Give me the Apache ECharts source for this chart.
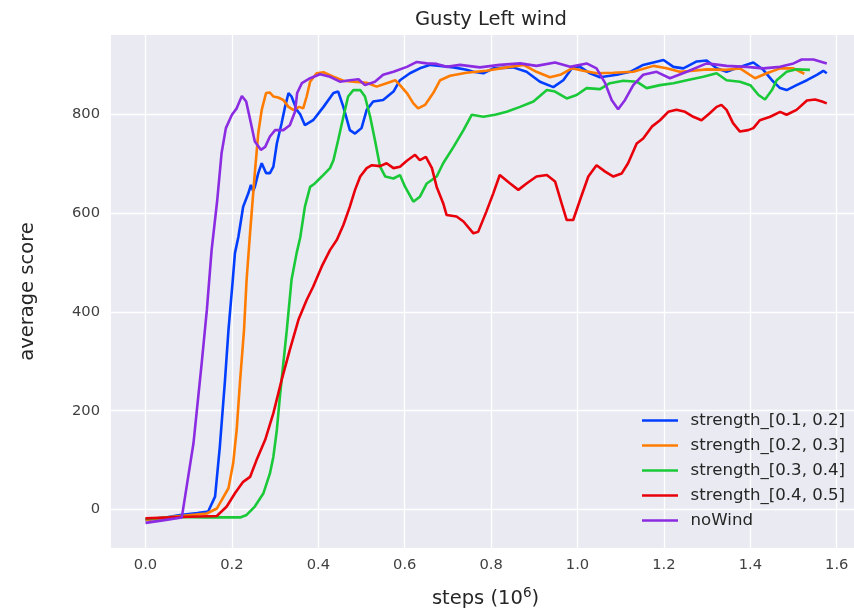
<!DOCTYPE html>
<html>
<head>
<meta charset="utf-8">
<script src="https://cdn.jsdelivr.net/npm/echarts@6/dist/echarts.min.js"></script>
<style>html,body{margin:0;padding:0;background:#fff;overflow:hidden}#c{width:854px;height:614px}</style>
</head>
<body>
<div id="c"></div>
<script>
const seriesNames = ['strength_[0.1, 0.2]', 'strength_[0.2, 0.3]', 'strength_[0.3, 0.4]', 'strength_[0.4, 0.5]', 'noWind'];
const xTicks = [0, 0.2, 0.4, 0.6, 0.8, 1.0, 1.2, 1.4, 1.6];
const yTicks = [0, 200, 400, 600, 800];

const blueX = [0, 0.04, 0.08, 0.12, 0.145, 0.161, 0.172, 0.184, 0.192, 0.202, 0.207, 0.215, 0.226, 0.238, 0.244, 0.249, 0.253, 0.261, 0.269, 0.279, 0.288, 0.296, 0.304, 0.315, 0.323, 0.331, 0.338, 0.35, 0.358, 0.369, 0.388, 0.412, 0.435, 0.446, 0.458, 0.473, 0.485, 0.5, 0.512, 0.527, 0.55, 0.574, 0.589, 0.612, 0.635, 0.659, 0.682, 0.713, 0.743, 0.759, 0.782, 0.805, 0.851, 0.882, 0.913, 0.944, 0.967, 0.987, 1.006, 1.029, 1.052, 1.091, 1.122, 1.152, 1.199, 1.222, 1.245, 1.276, 1.299, 1.322, 1.345, 1.376, 1.407, 1.43, 1.45, 1.469, 1.484, 1.507, 1.531, 1.554, 1.569, 1.577];
const blueY = [-21, -17, -11, -7, -4, 26, 127, 262, 363, 465, 519, 552, 613, 640, 657, 645, 653, 681, 701, 681, 681, 694, 741, 782, 815, 843, 836, 809, 800, 778, 788, 815, 843, 846, 815, 768, 761, 772, 809, 826, 829, 846, 869, 883, 893, 900, 898, 895, 890, 886, 883, 893, 895, 886, 866, 855, 869, 893, 896, 883, 875, 880, 886, 900, 910, 896, 893, 907, 909, 893, 886, 896, 905, 890, 869, 853, 849, 859, 869, 880, 888, 883];

const orangeX = [0, 0.04, 0.08, 0.142, 0.165, 0.192, 0.203, 0.211, 0.219, 0.228, 0.234, 0.242, 0.253, 0.261, 0.269, 0.279, 0.288, 0.296, 0.307, 0.319, 0.331, 0.342, 0.356, 0.365, 0.373, 0.381, 0.396, 0.412, 0.435, 0.458, 0.481, 0.512, 0.535, 0.558, 0.578, 0.589, 0.605, 0.62, 0.631, 0.647, 0.666, 0.682, 0.705, 0.743, 0.789, 0.836, 0.875, 0.905, 0.936, 0.96, 0.987, 1.013, 1.044, 1.083, 1.129, 1.176, 1.206, 1.237, 1.268, 1.299, 1.345, 1.376, 1.411, 1.438, 1.469, 1.5, 1.525];
const orangeY = [-21, -17, -13, -8, 2, 43, 94, 161, 262, 363, 465, 560, 681, 762, 809, 843, 844, 836, 834, 829, 815, 809, 815, 812, 836, 866, 883, 885, 876, 868, 866, 864, 856, 863, 869, 859, 843, 822, 812, 819, 843, 869, 878, 884, 888, 895, 900, 886, 875, 880, 893, 888, 883, 884, 886, 898, 893, 886, 888, 891, 890, 893, 873, 883, 893, 893, 882];

const greenX = [0, 0.08, 0.142, 0.219, 0.234, 0.253, 0.273, 0.288, 0.296, 0.304, 0.311, 0.319, 0.327, 0.338, 0.35, 0.358, 0.369, 0.381, 0.392, 0.408, 0.427, 0.435, 0.446, 0.458, 0.469, 0.481, 0.497, 0.508, 0.52, 0.531, 0.543, 0.555, 0.574, 0.589, 0.601, 0.62, 0.635, 0.651, 0.674, 0.689, 0.713, 0.736, 0.755, 0.782, 0.809, 0.836, 0.867, 0.898, 0.929, 0.948, 0.975, 0.998, 1.021, 1.052, 1.075, 1.106, 1.137, 1.16, 1.191, 1.222, 1.253, 1.291, 1.322, 1.345, 1.376, 1.4, 1.419, 1.434, 1.45, 1.461, 1.484, 1.507, 1.538];
const greenY = [-19, -15, -16, -16, -11, 6, 33, 73, 107, 161, 228, 296, 363, 465, 520, 550, 613, 653, 660, 674, 691, 707, 748, 795, 836, 849, 849, 836, 795, 748, 694, 674, 670, 677, 653, 623, 633, 660, 674, 701, 734, 768, 799, 795, 799, 805, 815, 826, 849, 846, 832, 839, 853, 851, 863, 868, 866, 853, 859, 863, 869, 876, 883, 869, 866, 859, 839, 830, 849, 869, 886, 891, 890];

const redX = [0, 0.08, 0.165, 0.188, 0.207, 0.226, 0.242, 0.257, 0.277, 0.296, 0.315, 0.334, 0.354, 0.373, 0.388, 0.408, 0.427, 0.443, 0.458, 0.473, 0.485, 0.497, 0.512, 0.524, 0.543, 0.558, 0.574, 0.589, 0.605, 0.624, 0.635, 0.649, 0.663, 0.674, 0.689, 0.697, 0.72, 0.736, 0.759, 0.77, 0.789, 0.805, 0.82, 0.844, 0.863, 0.882, 0.905, 0.929, 0.948, 0.963, 0.975, 0.99, 1.006, 1.025, 1.044, 1.064, 1.083, 1.102, 1.117, 1.137, 1.152, 1.172, 1.191, 1.21, 1.229, 1.249, 1.268, 1.287, 1.306, 1.322, 1.333, 1.345, 1.36, 1.376, 1.395, 1.407, 1.422, 1.446, 1.469, 1.484, 1.507, 1.531, 1.55, 1.566, 1.577];
const redY = [-18, -15, -13, 6, 33, 56, 66, 100, 141, 195, 262, 323, 384, 424, 451, 492, 525, 546, 576, 613, 647, 674, 691, 697, 695, 701, 691, 694, 706, 718, 707, 714, 691, 653, 620, 596, 593, 583, 559, 562, 603, 640, 677, 660, 647, 660, 674, 677, 664, 620, 586, 586, 627, 674, 697, 684, 674, 680, 701, 741, 751, 775, 788, 805, 809, 805, 795, 788, 802, 815, 819, 809, 782, 765, 768, 772, 788, 795, 805, 799, 809, 828, 830, 826, 822];

const purpleX = [0, 0.04, 0.084, 0.111, 0.13, 0.142, 0.153, 0.166, 0.176, 0.186, 0.2, 0.211, 0.223, 0.233, 0.244, 0.253, 0.267, 0.277, 0.288, 0.3, 0.319, 0.334, 0.346, 0.351, 0.362, 0.381, 0.404, 0.427, 0.45, 0.473, 0.493, 0.508, 0.531, 0.55, 0.574, 0.605, 0.628, 0.651, 0.674, 0.697, 0.728, 0.774, 0.82, 0.867, 0.905, 0.948, 0.983, 1.021, 1.044, 1.064, 1.079, 1.094, 1.11, 1.129, 1.152, 1.183, 1.214, 1.253, 1.299, 1.345, 1.392, 1.43, 1.469, 1.5, 1.519, 1.546, 1.577];
const purpleY = [-27, -22, -16, 134, 296, 404, 525, 626, 721, 772, 799, 812, 837, 826, 782, 745, 728, 734, 755, 768, 768, 778, 805, 843, 863, 873, 881, 876, 866, 869, 871, 859, 866, 880, 886, 896, 906, 903, 902, 896, 900, 895, 900, 903, 898, 905, 896, 903, 893, 863, 829, 810, 829, 859, 880, 886, 873, 886, 903, 898, 896, 893, 896, 903, 911, 911, 903];

const colors = ['#023EFF', '#FF7C00', '#1AC938', '#E8000B', '#8B2BE2'];
const xs = [blueX, orangeX, greenX, redX, purpleX];
const ys = [blueY, orangeY, greenY, redY, purpleY];

const FONT = 'DejaVu Sans';
const chart = echarts.init(document.getElementById('c'), null, {renderer: 'canvas'});
chart.setOption({
  animation: false,
  backgroundColor: '#ffffff',
  textStyle: {fontFamily: FONT},
  title: {
    text: 'Gusty Left wind',
    left: 486, top: 5, textAlign: 'center',
    textStyle: {fontFamily: FONT, fontSize: 19.5, fontWeight: 'normal', color: '#262626'}
  },
  grid: {left: 111, right: 0, top: 35, bottom: 66, show: true, backgroundColor: '#EAEAF2', borderWidth: 0},
  legend: {
    orient: 'vertical', left: 635.7, top: 407,
    itemWidth: 36, itemHeight: 14, itemGap: 8,
    itemStyle: {opacity: 0},
    lineStyle: {width: 2.6},
    textStyle: {fontFamily: FONT, fontSize: 16.6, lineHeight: 17, color: '#262626', padding: [0, 0, 0, 7.6]},
    data: seriesNames
  },
  xAxis: {
    type: 'value', min: -0.0799, max: 1.640,
    name: 'steps (10{sup|6})', nameLocation: 'middle', nameGap: 38,
    nameTextStyle: {fontFamily: FONT, fontSize: 19.5, color: '#262626', padding: [0, 0, 0, 6],
      rich: {sup: {fontFamily: FONT, fontSize: 13.5, color: '#262626', padding: [0, 0, 11, 0]}}},
    axisLine: {show: false}, axisTick: {show: false, customValues: xTicks},
    axisLabel: {customValues: xTicks, fontFamily: FONT, fontSize: 14.7, color: '#404040', margin: 10,
      formatter: v => v.toFixed(1)},
    splitLine: {show: true, lineStyle: {color: '#ffffff', width: 1.3}}
  },
  yAxis: {
    type: 'value', min: -77.9, max: 960.5,
    name: 'average score', nameLocation: 'middle', nameGap: 73, nameRotate: 90,
    nameTextStyle: {fontFamily: FONT, fontSize: 19.5, color: '#262626'},
    axisLine: {show: false}, axisTick: {show: false, customValues: yTicks},
    axisLabel: {customValues: yTicks, fontFamily: FONT, fontSize: 14.7, color: '#404040', margin: 11},
    splitLine: {show: true, lineStyle: {color: '#ffffff', width: 1.3}}
  },
  series: seriesNames.map((n, i) => ({
    name: n, type: 'line', symbol: 'none', showSymbol: false,
    data: xs[i].map((x, j) => [x, ys[i][j]]),
    lineStyle: {color: colors[i], width: 2.6},
    itemStyle: {color: colors[i]},
    emphasis: {disabled: true}
  }))
});
</script>
</body>
</html>
